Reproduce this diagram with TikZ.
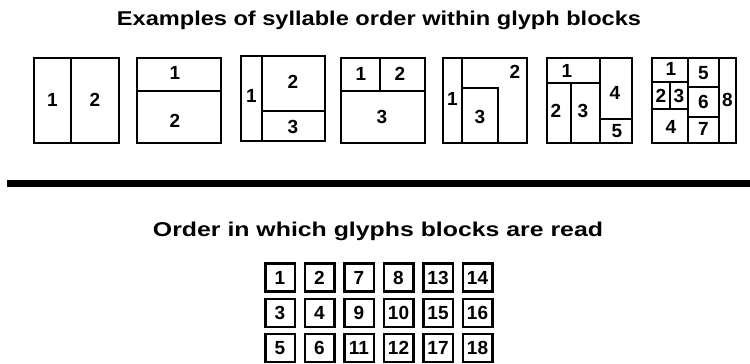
\documentclass[tikz,border=0pt]{standalone}
\usepackage{fontspec}
\setmainfont{Liberation Sans}
\begin{document}
\begin{tikzpicture}[x=1pt,y=-1pt,
  blk/.style={line width=1.8pt,line join=miter},
  num/.style={font=\fontsize{19}{19}\selectfont\bfseries,inner sep=0pt},
  gbox/.style={draw,line width=2.5pt,minimum width=29.5pt,minimum height=28pt,inner sep=0pt,text height=13.5pt,text depth=0pt,font=\fontsize{19}{19}\selectfont\bfseries},
  ttl/.style={inner sep=0pt,anchor=base,font=\bfseries}]
\useasboundingbox (0,0) rectangle (750,364);
\fill[white] (0,0) rectangle (750,364);
% titles
\node[ttl] (t1) at (379,25) {\resizebox{524pt}{14.5pt}{Examples of syllable order within glyph blocks}};
\node[ttl] (t2) at (378,236) {\resizebox{450pt}{14.5pt}{Order in which glyphs blocks are read}};
% separator
\draw[line width=6.5pt] (7,183.5) -- (750,183.5);
% block 1
\draw[blk] (34,58) rectangle (119,143);
\draw[blk] (71,58) -- (71,143);
\node[num] (b1a) at (52.5,100) {1};
\node[num] (b1b) at (95,100) {2};
% block 2
\draw[blk] (137,58) rectangle (221,143);
\draw[blk] (137,91) -- (221,91);
\node[num] (b2a) at (175,73) {1};
\node[num] (b2b) at (175,121) {2};
% block 3
\draw[blk] (241,56) rectangle (325,141);
\draw[blk] (262,56) -- (262,141);
\draw[blk] (262,111) -- (325,111);
\node[num] (b3a) at (251.5,96) {1};
\node[num] (b3b) at (293,82) {2};
\node[num] (b3c) at (293,127) {3};
% block 4
\draw[blk] (341,58) rectangle (425,143);
\draw[blk] (341,91) -- (425,91);
\draw[blk] (380,58) -- (380,91);
\node[num] (b4a) at (361,74) {1};
\node[num] (b4b) at (400,74) {2};
\node[num] (b4c) at (382,117) {3};
% block 5
\draw[blk] (443,58) rectangle (527,143);
\draw[blk] (462,58) -- (462,143);
\draw[blk] (462,88) -- (498,88) -- (498,143);
\node[num] (b5a) at (452.5,99) {1};
\node[num] (b5b) at (515,72) {2};
\node[num] (b5c) at (480,117) {3};
% block 6
\draw[blk] (547,58) rectangle (632,143);
\draw[blk] (547,83) -- (600,83);
\draw[blk] (600,58) -- (600,143);
\draw[blk] (571,83) -- (571,143);
\draw[blk] (600,119) -- (632,119);
\node[num] (b6a) at (567,71) {1};
\node[num] (b6b) at (556,111) {2};
\node[num] (b6c) at (583,111) {3};
\node[num] (b6d) at (615,93) {4};
\node[num] (b6e) at (617,131) {5};
% block 7
\draw[blk] (652,58) rectangle (736,143);
\draw[blk] (688,58) -- (688,143);
\draw[blk] (719,58) -- (719,143);
\draw[blk] (652,82) -- (688,82);
\draw[blk] (652,109) -- (688,109);
\draw[blk] (670,82) -- (670,109);
\draw[blk] (688,87) -- (719,87);
\draw[blk] (688,117) -- (719,117);
\node[num] (b7a) at (671,69) {1};
\node[num] (b7b) at (661,95.5) {2};
\node[num] (b7c) at (679,95.5) {3};
\node[num] (b7d) at (671,127) {4};
\node[num] (b7e) at (703.5,73) {5};
\node[num] (b7f) at (703.5,102) {6};
\node[num] (b7g) at (703.5,129) {7};
\node[num] (b7h) at (727.5,100) {8};
% grid
\foreach \n/\c/\r in {1/0/0,2/1/0,7/2/0,8/3/0,13/4/0,14/5/0,
                      3/0/1,4/1/1,9/2/1,10/3/1,15/4/1,16/5/1,
                      5/0/2,6/1/2,11/2/2,12/3/2,17/4/2,18/5/2}{
  \node[gbox] (g\n) at ({280+39.5*\c},{277.5+35.3*\r}) {\n};
}
\end{tikzpicture}
\end{document}
